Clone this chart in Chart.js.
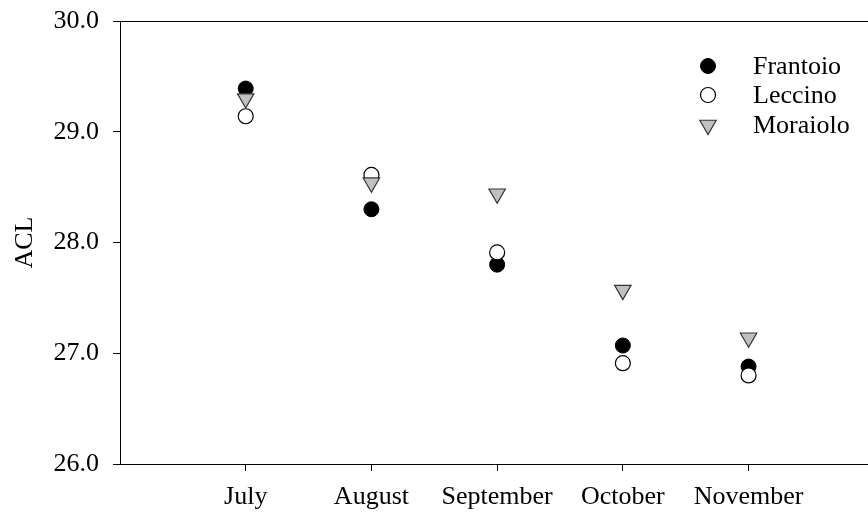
<!DOCTYPE html>
<html>
<head>
<meta charset="utf-8">
<script src="https://cdn.jsdelivr.net/npm/chart.js@4.4.1/dist/chart.umd.min.js"></script>
<style>
  html, body { margin: 0; padding: 0; background: #fff; }
  #wrap { width: 868px; height: 514px; }
</style>
</head>
<body>
<div id="wrap"><canvas id="aclChart" width="868" height="514"></canvas></div>
<script>
// Data
const months = ["July", "August", "September", "October", "November"];
const frantoio = [29.39, 28.30, 27.80, 27.07, 26.88];
const leccino = [29.14, 28.61, 27.91, 26.91, 26.80];
const moraiolo = [29.30, 28.54, 28.44, 27.57, 27.14];
const yTicks = [26.0, 27.0, 28.0, 29.0, 30.0];

const serif = "'Liberation Serif', 'Times New Roman', serif";

function toPoints(values) {
    return values.map((v, i) => ({ x: i + 1, y: v }));
}

// legend drawn inside the plot, top right, plus the top frame line
const innerLegend = {
    id: "innerLegend",
    afterDraw(chart) {
        const ctx = chart.ctx;
        const area = chart.chartArea;
        ctx.save();
        ctx.strokeStyle = "#000";
        ctx.lineWidth = 1;
        ctx.beginPath();
        ctx.moveTo(area.left, area.top + 0.5);
        ctx.lineTo(area.right, area.top + 0.5);
        ctx.stroke();

        const mx = 708, tx = 753;
        const rows = [66, 95, 125];
        ctx.font = "26px " + serif;
        ctx.textBaseline = "middle";
        ctx.textAlign = "left";
        chart.data.datasets.forEach((ds, i) => {
            const y = rows[i];
            ctx.fillStyle = ds.backgroundColor;
            ctx.strokeStyle = ds.borderColor;
            ctx.lineWidth = ds.borderWidth;
            ctx.beginPath();
            if (ds.pointStyle === "triangle") {
                const r = ds.pointRadius;
                for (let k = 0; k < 3; k++) {
                    const a = Math.PI + k * 2 * Math.PI / 3;
                    const px = mx + Math.sin(a) * r;
                    const py = y - Math.cos(a) * r;
                    if (k === 0) ctx.moveTo(px, py); else ctx.lineTo(px, py);
                }
                ctx.closePath();
            } else {
                ctx.arc(mx, y, ds.pointRadius, 0, Math.PI * 2);
            }
            ctx.fill();
            ctx.stroke();
            ctx.fillStyle = "#000";
            ctx.fillText(ds.label, tx, y + 1);
        });
        ctx.restore();
    }
};

const ctx = document.getElementById("aclChart").getContext("2d");
new Chart(ctx, {
    type: "scatter",
    data: {
        datasets: [
            {
                label: "Frantoio",
                data: toPoints(frantoio),
                pointStyle: "circle",
                pointRadius: 7.5,
                backgroundColor: "#000",
                borderColor: "#000",
                borderWidth: 1,
                order: 3
            },
            {
                label: "Leccino",
                data: toPoints(leccino),
                pointStyle: "circle",
                pointRadius: 7.5,
                backgroundColor: "#fff",
                borderColor: "#000",
                borderWidth: 1.2,
                order: 2
            },
            {
                label: "Moraiolo",
                data: toPoints(moraiolo),
                pointStyle: "triangle",
                rotation: 180,
                pointRadius: 9.5,
                backgroundColor: "#c0c0c0",
                borderColor: "#333",
                borderWidth: 1.2,
                order: 1
            }
        ]
    },
    options: {
        responsive: false,
        animation: false,
        layout: { autoPadding: false, padding: { top: 21, right: 0, left: 0, bottom: 0 } },
        plugins: {
            legend: { display: false },
            tooltip: { enabled: false }
        },
        scales: {
            x: {
                type: "linear",
                min: 0,
                max: 5.95,
                afterFit(scale) { scale.height = 50; },
                afterBuildTicks(scale) {
                    scale.ticks = months.map((m, i) => ({ value: i + 1 }));
                },
                ticks: {
                    color: "#000",
                    font: { family: serif, size: 26 },
                    padding: 11,
                    maxRotation: 0,
                    autoSkip: false,
                    callback: (v) => months[v - 1] || ""
                },
                grid: { drawOnChartArea: false, drawTicks: true, tickLength: 7, color: "#000" },
                border: { color: "#000", width: 1 }
            },
            y: {
                min: 26,
                max: 30,
                afterFit(scale) {
                    scale.width = 120;
                    scale.paddingTop = 0;
                    scale.paddingBottom = 0;
                },
                afterBuildTicks(scale) {
                    scale.ticks = yTicks.map(v => ({ value: v }));
                },
                title: {
                    display: true,
                    text: "ACL",
                    color: "#000",
                    font: { family: serif, size: 26 },
                    padding: { top: 10, bottom: 0 }
                },
                ticks: {
                    color: "#000",
                    font: { family: serif, size: 26 },
                    padding: 14,
                    callback: (v) => Number(v).toFixed(1)
                },
                grid: { drawOnChartArea: false, drawTicks: true, tickLength: 7, color: "#000" },
                border: { color: "#000", width: 1 }
            }
        }
    },
    plugins: [innerLegend]
});
</script>
</body>
</html>
